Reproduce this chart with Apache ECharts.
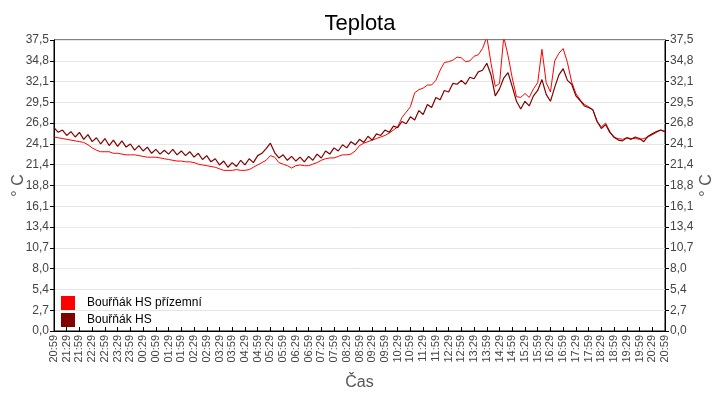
<!DOCTYPE html>
<html>
<head>
<meta charset="utf-8">
<script src="https://cdn.jsdelivr.net/npm/echarts@6/dist/echarts.min.js"></script>
<style>
  html, body { margin: 0; padding: 0; background: #fff; }
  #chart { width: 720px; height: 400px; }
</style>
</head>
<body>
<div id="chart"></div>
<script>
// popisky osy X (po 30 minutách)
const xLabels = [
  '20:59','21:29','21:59','22:29','22:59','23:29','23:59','00:29','00:59','01:29',
  '01:59','02:29','02:59','03:29','03:59','04:29','04:59','05:29','05:59','06:29',
  '06:59','07:29','07:59','08:29','08:59','09:29','09:59','10:29','10:59','11:29',
  '11:59','12:29','12:59','13:29','13:59','14:29','14:59','15:29','15:59','16:29',
  '16:59','17:29','17:59','18:29','18:59','19:29','19:59','20:29','20:59'
];
// popisky osy Y
const yLabels = ['0,0','2,7','5,4','8,0','10,7','13,4','16,1','18,8','21,4','24,1','26,8','29,5','32,1','34,8','37,5'];

const seriesNames = ['Bouřňák HS přízemní', 'Bouřňák HS'];

// hodnoty po 10 minutách
const prizemni = [
  25.0,24.9,24.8,24.7,24.6,24.5,24.4,24.3,24.0,23.6,
  23.3,23.1,23.1,23.1,22.9,22.9,22.8,22.7,22.7,22.7,
  22.6,22.5,22.4,22.4,22.4,22.3,22.2,22.1,22.0,21.9,
  21.9,21.8,21.8,21.7,21.5,21.4,21.3,21.2,21.1,20.9,
  20.7,20.7,20.7,20.8,20.7,20.7,20.8,21.1,21.4,21.7,
  22.0,22.6,22.4,21.7,21.5,21.3,21.0,21.3,21.4,21.3,
  21.3,21.5,21.7,22.0,22.2,22.3,22.3,22.5,22.7,22.7,
  22.8,23.2,23.9,24.2,24.4,24.6,24.8,25.0,25.2,25.5,
  25.9,26.3,27.5,28.2,28.9,30.7,31.1,31.3,31.7,31.7,
  32.3,33.6,34.6,34.7,34.9,35.3,35.2,34.7,34.8,35.4,
  35.6,36.4,37.9,34.5,31.5,31.9,37.9,35.5,32.6,30.2,
  30.1,30.6,30.1,31.2,32.0,36.3,32.0,30.8,34.8,35.8,
  36.4,34.6,32.1,30.6,29.8,29.2,28.9,28.5,27.0,26.3,
  26.8,25.7,24.9,24.8,24.7,24.9,24.8,24.8,24.7,24.8,
  25.0,25.3,25.6,25.9,25.7
];
const hs = [
  26.2,25.6,25.9,25.2,25.7,25.0,25.6,24.7,25.3,24.4,
  24.9,24.1,24.8,23.9,24.6,23.8,24.5,23.7,24.1,23.3,
  23.9,23.2,23.7,22.9,23.4,22.8,23.3,22.8,23.4,22.7,
  23.2,22.6,23.1,22.4,22.9,22.1,22.6,21.8,22.2,21.4,
  21.9,21.1,21.7,21.2,22.0,21.4,22.2,21.7,22.6,22.9,
  23.5,24.2,23.0,22.3,22.7,22.0,22.5,21.9,22.4,21.8,
  22.5,22.0,22.8,22.3,23.2,22.8,23.6,23.2,24.0,23.6,
  24.4,24.0,24.7,24.3,25.1,24.6,25.4,25.2,25.9,25.6,
  26.4,26.2,27.0,26.7,27.6,27.2,28.4,27.9,29.2,28.8,
  30.1,29.8,31.0,30.8,31.9,31.8,32.3,31.8,32.7,32.5,
  33.4,33.6,34.5,33.0,30.3,31.2,32.6,33.3,31.5,29.6,
  28.6,29.6,29.0,30.3,31.0,32.4,30.5,29.6,31.4,33.0,
  33.8,32.3,31.8,30.3,29.7,29.0,28.8,28.5,27.0,26.1,
  26.6,25.6,25.0,24.6,24.5,24.9,24.7,25.0,24.8,24.4,
  25.1,25.4,25.7,25.9,25.7
];

const stepMin = 10;
const yMax = 37.5;
const yStep = yMax / 14;
const font = 'Liberation Sans, Arial, sans-serif';

const toPairs = arr => arr.map((v, i) => [i * stepMin, v]);

const yLabelFmt = v => yLabels[Math.round(v / yStep)] ?? '';

const yAxisBase = {
  type: 'value',
  min: 0,
  max: yMax,
  interval: yStep,
  name: '° C',
  nameLocation: 'middle',
  nameMoveOverlap: false,
  nameTextStyle: { fontFamily: font, fontSize: 16, color: '#555' },
  axisLine: { show: true, lineStyle: { color: '#000', width: 1 } },
  axisTick: { show: true, length: 4, lineStyle: { color: '#000' } },
  axisLabel: { formatter: yLabelFmt, fontFamily: font, fontSize: 12, color: '#444', margin: 5 }
};

const chart = echarts.init(document.getElementById('chart'));

chart.setOption({
  animation: false,
  backgroundColor: '#fff',
  title: {
    text: 'Teplota',
    left: 'center',
    top: 8,
    textStyle: { fontFamily: font, fontSize: 22, fontWeight: 'normal', color: '#000' }
  },
  legend: {
    orient: 'vertical',
    left: 61,
    top: 296,
    padding: 0,
    icon: 'rect',
    itemWidth: 14,
    itemHeight: 14,
    itemGap: 3,
    data: seriesNames,
    textStyle: { fontFamily: font, fontSize: 12, color: '#000', padding: [0, 0, 0, 7] }
  },
  grid: {
    left: 54, right: 55, top: 40, bottom: 69,
    outerBoundsMode: 'none',
    show: true, borderColor: '#000', borderWidth: 1
  },
  xAxis: {
    type: 'value',
    min: 0,
    max: (xLabels.length - 1) * 30,
    interval: 30,
    name: 'Čas',
    nameLocation: 'middle',
    nameMoveOverlap: false,
    nameGap: 44,
    nameTextStyle: { fontFamily: font, fontSize: 16, color: '#555' },
    axisLine: { show: true, lineStyle: { color: '#000', width: 1 } },
    axisTick: { show: true, inside: true, length: 4, lineStyle: { color: '#000' } },
    splitLine: { show: false },
    axisLabel: {
      formatter: v => xLabels[Math.round(v / 30)] ?? '',
      rotate: 90,
      fontFamily: font,
      fontSize: 11,
      color: '#444',
      margin: 4,
      showMinLabel: true,
      showMaxLabel: true
    }
  },
  yAxis: [
    Object.assign({}, yAxisBase, {
      position: 'left',
      nameGap: 27,
      splitLine: { show: true, lineStyle: { color: '#e6e6e6', width: 1 } }
    }),
    Object.assign({}, yAxisBase, {
      position: 'right',
      nameGap: 34,
      splitLine: { show: false }
    })
  ],
  series: [
    {
      name: seriesNames[0],
      type: 'line',
      data: toPairs(prizemni),
      showSymbol: false,
      color: '#ff0000',
      lineStyle: { width: 1, color: '#ff0000' },
      clip: true
    },
    {
      name: seriesNames[1],
      type: 'line',
      data: toPairs(hs),
      showSymbol: false,
      color: '#800000',
      lineStyle: { width: 1.2, color: '#800000' },
      clip: true
    }
  ]
});
</script>
</body>
</html>
